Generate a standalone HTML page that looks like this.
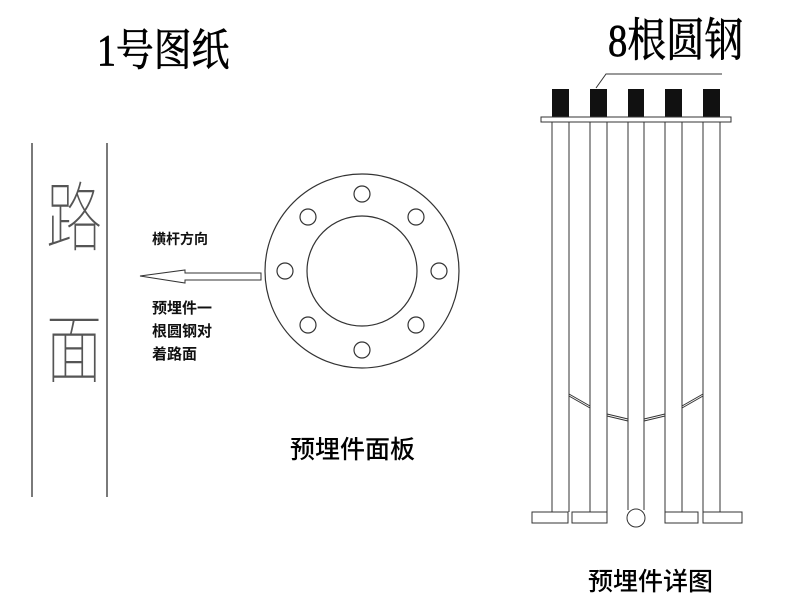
<!DOCTYPE html>
<html><head><meta charset="utf-8"><style>
html,body{margin:0;padding:0;background:#fff;}
svg{display:block}
.s{font-family:"Liberation Serif","Noto Serif CJK SC",serif;}
.b{font-family:"Liberation Sans","Noto Sans CJK SC",sans-serif;font-weight:bold;}
</style></head><body>
<svg width="800" height="615" viewBox="0 0 800 615" xmlns="http://www.w3.org/2000/svg">
<rect width="800" height="615" fill="#fff"/>
<g class="s" fill="#000" stroke="#000" stroke-width="0.7">
<text x="97" y="65" font-size="44" transform="translate(97 0) scale(0.86 1) translate(-97 0)">1号图纸</text>
<text x="608" y="56" font-size="46" transform="translate(608 0) scale(0.84 1) translate(-608 0)">8根圆钢</text>
</g>
<g stroke="#222" stroke-width="1.2" fill="none">
<line x1="32" y1="143" x2="32" y2="497"/>
<line x1="107" y1="143" x2="107" y2="497"/>
</g>
<g font-family="'Noto Sans CJK SC',sans-serif" font-weight="100" fill="#555" font-size="66">
<text x="46" y="243" transform="translate(46 0) scale(0.85 1.15) translate(-46 0)" dy="-30">路</text>
<text x="46" y="385" transform="translate(0 -66) translate(46 0) scale(0.85 1.15) translate(-46 0)">面</text>
</g>
<g class="b" fill="#111">
<text x="152" y="244" font-size="14">横杆方向</text>
<text x="152" y="313" font-size="15">预埋件一</text>
<text x="152" y="336" font-size="15">根圆钢对</text>
<text x="152" y="359" font-size="15">着路面</text>
</g>
<polygon points="140,276 185,270 185,273 261,273 261,280 185,280 185,283" fill="#fff" stroke="#333" stroke-width="1"/>
<g stroke="#333" stroke-width="1.2" fill="none">
<circle cx="362" cy="271" r="97"/>
<circle cx="362" cy="271" r="55"/>
<circle cx="362" cy="194" r="8"/>
<circle cx="416" cy="217" r="8"/>
<circle cx="439" cy="271" r="8"/>
<circle cx="416" cy="325" r="8"/>
<circle cx="362" cy="350" r="8"/>
<circle cx="308" cy="325" r="8"/>
<circle cx="285" cy="271" r="8"/>
<circle cx="308" cy="217" r="8"/>
</g>
<text x="290" y="458" font-size="25" font-family="'Liberation Sans','Noto Sans CJK SC',sans-serif" font-weight="500">预埋件面板</text>
<text x="588" y="590" font-size="25" font-family="'Liberation Sans','Noto Sans CJK SC',sans-serif" font-weight="500">预埋件详图</text>
<g fill="#111">
<rect x="552" y="89" width="17" height="28"/>
<rect x="590" y="89" width="17" height="28"/>
<rect x="628" y="89" width="16" height="28"/>
<rect x="665" y="89" width="17" height="28"/>
<rect x="703" y="89" width="17" height="28"/>
</g>
<g stroke="#333" stroke-width="1" fill="none">
<polyline points="596,88 606,74 722,74"/>
<rect x="541" y="117" width="190" height="5" fill="#fff"/>
<line x1="552" y1="122" x2="552" y2="512"/><line x1="569" y1="122" x2="569" y2="512"/>
<line x1="590" y1="122" x2="590" y2="512"/><line x1="607" y1="122" x2="607" y2="512"/>
<line x1="628" y1="122" x2="628" y2="510"/><line x1="644" y1="122" x2="644" y2="510"/>
<line x1="665" y1="122" x2="665" y2="512"/><line x1="682" y1="122" x2="682" y2="512"/>
<line x1="703" y1="122" x2="703" y2="512"/><line x1="720" y1="122" x2="720" y2="512"/>
<line x1="569" y1="394" x2="590" y2="406"/><line x1="569" y1="396" x2="590" y2="408"/>
<line x1="607" y1="414" x2="628" y2="419"/><line x1="607" y1="416" x2="628" y2="421"/>
<line x1="644" y1="419" x2="665" y2="414"/><line x1="644" y1="421" x2="665" y2="416"/>
<line x1="682" y1="406" x2="703" y2="394"/><line x1="682" y1="408" x2="703" y2="396"/>
<rect x="532" y="512" width="36" height="11" fill="#fff"/>
<rect x="572" y="512" width="35" height="11" fill="#fff"/>
<circle cx="636" cy="518" r="9" fill="#fff"/>
<rect x="665" y="512" width="33" height="11" fill="#fff"/>
<rect x="703" y="512" width="39" height="11" fill="#fff"/>
</g>
</svg>
</body></html>
